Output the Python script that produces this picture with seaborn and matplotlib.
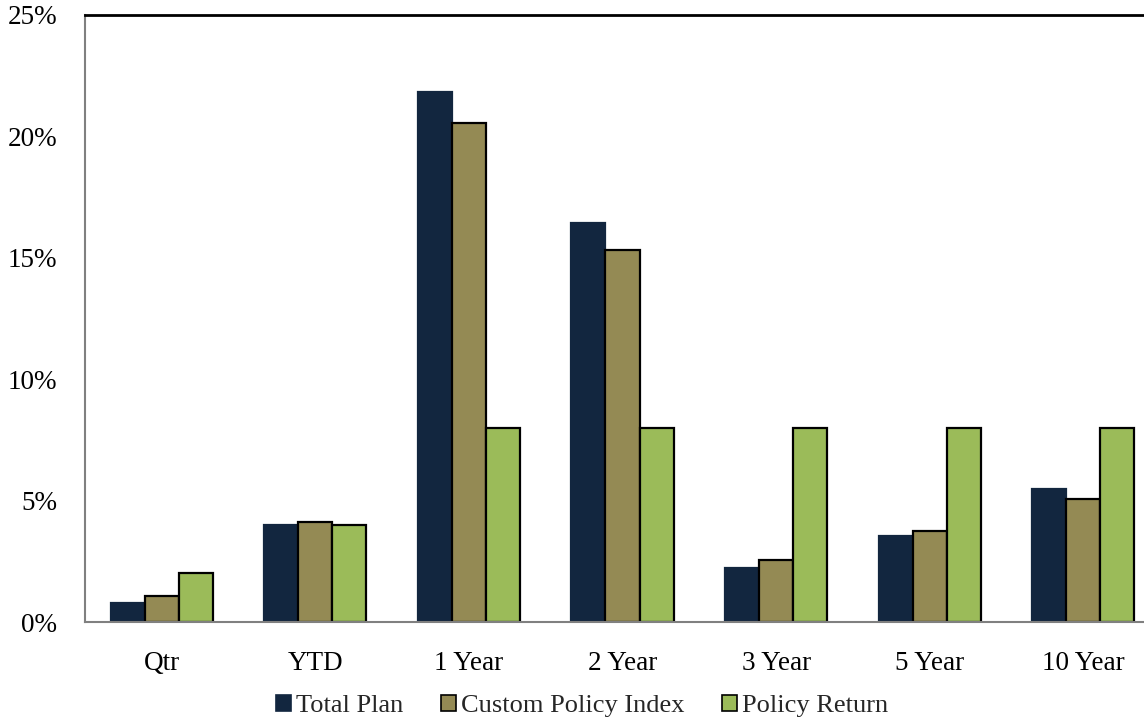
import matplotlib
matplotlib.use("Agg")
import matplotlib.pyplot as plt
import seaborn as sns
import pandas as pd
from matplotlib.patches import Patch
from matplotlib.ticker import FuncFormatter

periods = ["Qtr", "YTD", "1 Year", "2 Year", "3 Year", "5 Year", "10 Year"]
total_plan = [0.78, 4.0, 21.83, 16.43, 2.22, 3.54, 5.48]
custom_policy_index = [1.07, 4.12, 20.55, 15.32, 2.55, 3.75, 5.07]
policy_return = [2.0, 4.0, 8.0, 8.0, 8.0, 8.0, 8.0]
series_names = ["Total Plan", "Custom Policy Index", "Policy Return"]
colors = ["#12263f", "#948a54", "#9bbb59"]
edges = ["#12263f", "#000000", "#000000"]

df = pd.DataFrame({
    "Period": periods * 3,
    "Series": [series_names[0]] * 7 + [series_names[1]] * 7 + [series_names[2]] * 7,
    "Value": total_plan + custom_policy_index + policy_return,
})

sns.set_style("white")
plt.rcParams["font.family"] = ["Liberation Serif", "DejaVu Serif"]

fig = plt.figure(figsize=(11.44, 7.19), dpi=100)
ax = fig.add_axes([85 / 1144, 1 - 622 / 719, (1160 - 85) / 1144, (622 - 15) / 719])

sns.barplot(data=df, x="Period", y="Value", hue="Series", order=periods,
            hue_order=series_names, palette=colors, width=0.665, gap=0,
            saturation=1, legend=False, ax=ax)

for container, ec in zip(ax.containers, edges):
    for bar in container:
        bar.set_edgecolor(ec)
        bar.set_linewidth(1.6)

ax.set_xlim(-0.5, 6.5)
ax.set_ylim(0, 25)
ax.set_yticks([0, 5, 10, 15, 20, 25])
ax.yaxis.set_major_formatter(FuncFormatter(lambda v, _: f"{v:.0f}%"))
ax.set_xlabel("")
ax.set_ylabel("")
ax.tick_params(axis="both", length=0, labelsize=19.5, colors="black")
ax.tick_params(axis="y", pad=20)
ax.tick_params(axis="x", pad=21)

for side in ["left", "bottom"]:
    ax.spines[side].set_color("#808080")
    ax.spines[side].set_linewidth(1.5)
ax.spines["top"].set_color("black")
ax.spines["top"].set_linewidth(2)
ax.spines["right"].set_visible(False)

handles = [Patch(facecolor=c, edgecolor=e, linewidth=1.2) for c, e in zip(colors, edges)]
fig.legend(handles, series_names, loc="center", bbox_to_anchor=(582 / 1144, 1 - 706 / 719),
           ncol=3, frameon=False, fontsize=19, handlelength=0.58, handleheight=0.58,
           handletextpad=0.2, columnspacing=1.4, borderpad=0)

fig.savefig("out.png", dpi=100)
